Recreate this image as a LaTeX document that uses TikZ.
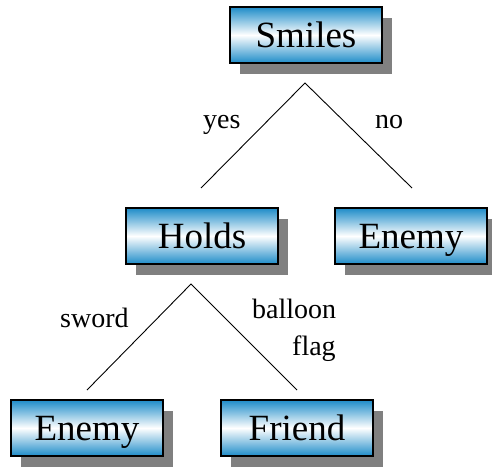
\documentclass[tikz,border=0pt]{standalone}
\usepackage{fontspec}
\setmainfont{Liberation Serif}
\usetikzlibrary{shadows}
\definecolor{boxblue}{RGB}{30,140,200}
\definecolor{shadowgray}{RGB}{128,128,128}
\tikzset{
  box/.style={draw=black, line width=1.2pt, minimum width=152pt, minimum height=56pt,
    inner sep=0pt, top color=boxblue, bottom color=boxblue, middle color=white,
    font=\fontsize{37}{40}\selectfont, text height=24.5pt, text depth=0pt,
    drop shadow={shadow xshift=10pt, shadow yshift=-11pt, fill=shadowgray, opacity=1}},
  lbl/.style={font=\fontsize{28}{32}\selectfont, inner sep=0pt, anchor=base west},
  edge/.style={draw=black, line width=0.9pt}
}
\begin{document}
\begin{tikzpicture}[x=1pt,y=-1pt]
\useasboundingbox (0,0) rectangle (492,466);
\node[box] (smiles) at (306,35) {Smiles};
\node[box] (holds) at (202,236) {Holds};
\node[box] (enemyR) at (411,236) {Enemy};
\node[box] (enemyL) at (87,428) {Enemy};
\node[box] (friend) at (297,428) {Friend};
\coordinate (a1) at (305,83);
\coordinate (a1l) at (201,188);
\coordinate (a1r) at (412,188);
\coordinate (a2) at (191,284);
\coordinate (a2l) at (87,390);
\coordinate (a2r) at (297,390);
\draw[edge] (a1l) -- (a1) -- (a1r);
\draw[edge] (a2l) -- (a2) -- (a2r);
\node[lbl] (yes) at (203,128) {yes};
\node[lbl] (no) at (375,128) {no};
\node[lbl] (sword) at (60,327) {sword};
\node[lbl] (balloon) at (252,318) {balloon};
\node[lbl] (flag) at (292,355) {flag};
\end{tikzpicture}
\end{document}
